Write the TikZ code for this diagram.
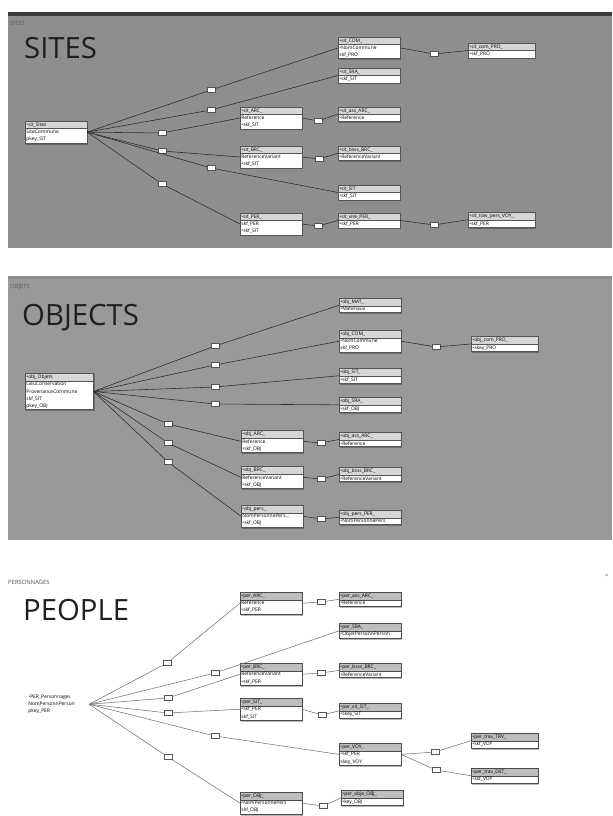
\documentclass[tikz,border=0pt]{standalone}
\usepackage{fontspec}
\setmainfont{Open Sans}
\usetikzlibrary{positioning,shapes.multipart,backgrounds}

\definecolor{panDark}{HTML}{8E8E8E}
\definecolor{panMid}{HTML}{999999}
\definecolor{panBar}{HTML}{3C3C3C}
\definecolor{hdrGray}{HTML}{D6D6D6}
\definecolor{hdrGrayDk}{HTML}{BEBEBE}
\definecolor{lineDark}{HTML}{2E2E2E}
\definecolor{lineGray}{HTML}{707070}
\definecolor{boxLine}{HTML}{555555}

\newcommand{\tbltext}{\fontsize{4.2}{6}\selectfont}

\tikzset{
  tblnode/.style={rectangle split, rectangle split parts=2,
                  rectangle split part fill={hdrGray,white}, draw=boxLine,
                  line width=0.4pt, text width=1.78cm, inner sep=1pt,
                  align=left, font=\tbltext, anchor=north west},
  widenode/.style={tblnode, text width=1.93cm},
  pertbl/.style={tblnode, rectangle split part fill={hdrGrayDk,white}, draw=black!70},
  perwide/.style={pertbl, text width=1.93cm},
  relbox/.style={draw=boxLine, fill=white, minimum width=0.24cm,
                 minimum height=0.15cm, inner sep=0pt},
  rel/.style={lineDark, line width=0.5pt},
  relgray/.style={lineGray, line width=0.45pt},
  titlenode/.style={font=\fontsize{25}{25}\selectfont, text=black!88,
                    anchor=base west, inner sep=0pt},
  tabname/.style={font=\fontsize{5}{5}\selectfont, anchor=base west, inner sep=0pt},
  tblshadow/.style={fill=black, opacity=0.28},
}

\begin{document}
\begin{tikzpicture}[x=0.03cm, y=-0.03cm]
\useasboundingbox (0,0) rectangle (612,816);

%% SITES panel
\node[tabname, text=black!65] (capSites) at (10,26) {SITES};
\node[titlenode] (tSites) at (24,59) {SITES};

\node[tblnode] (sitSites)   at (25,121)  {•sit\_Sites \nodepart{two} SiteCommune\\pkey\_SIT};
\node[tblnode] (sitARC)     at (240,107) {•sit\_ARC\_ \nodepart{two} Reference\\•skf\_SIT};
\node[tblnode] (sitBRC)     at (240,146) {•sit\_BRC\_ \nodepart{two} ReferenceVariant\\•skf\_SIT};
\node[tblnode] (sitPER)     at (240,213) {•sit\_PER\_ \nodepart{two} skf\_PER\\•skf\_SIT};
\node[tblnode] (sitCOM)     at (338,37)  {•sit\_COM\_ \nodepart{two} •NomCommune\\skf\_PRO};
\node[tblnode] (sitSRA)     at (338,68)  {•sit\_SRA\_ \nodepart{two} •skf\_SIT};
\node[tblnode] (sitassARC)  at (338,107) {•sit\_ass\_ARC\_ \nodepart{two} •Reference};
\node[tblnode] (sitbsssBRC) at (338,146) {•sit\_bsss\_BRC\_ \nodepart{two} •ReferenceVariant};
\node[tblnode] (sitSIT)     at (338,185) {•sit\_SIT \nodepart{two} •skf\_SIT};
\node[tblnode] (sitvirePER) at (338,213) {•sit\_vire\_PER\_ \nodepart{two} •skf\_PER};
\node[widenode] (sitcomPRO) at (468,43)  {•sit\_com\_PRO\_ \nodepart{two} •skf\_PRO};
\node[widenode] (sittravVOY) at (468,212) {•sit\_trav\_pers\_VOY\_ \nodepart{two} •skf\_PER};

% relation boxes
\foreach \n/\x/\y in {s1/211/90, s2/211/110, s3/162/133, s4/162/151, s5/211/168,
                      s6/162/184, s7/318/121, s8/319/159, s9/318/226, s10/434/54,
                      s11/434/225}
  \node[relbox] (\n) at (\x,\y) {};

\foreach \b/\t in {s1/sitCOM, s2/sitSRA, s3/sitARC, s4/sitBRC, s5/sitSIT, s6/sitPER}
  \draw[rel] (sitSites.east) -- (\b) -- (\t.west);
\foreach \a/\b/\t in {sitARC/s7/sitassARC, sitBRC/s8/sitbsssBRC, sitPER/s9/sitvirePER,
                      sitCOM/s10/sitcomPRO, sitvirePER/s11/sittravVOY}
  \draw[rel] (\a.east) -- (\b) -- (\t.west);

%% OBJECTS panel
\node[tabname, text=black!65] (capObj) at (10,288) {OBJETS};
\node[titlenode] (tObj) at (22,325) {OBJECTS};

\node[tblnode, text width=1.97cm] (objObjets) at (25,373)
  {•obj\_Objets \nodepart{two} LieuConservation\\ProvenanceCommune\\skf\_SIT\\pkey\_OBJ};
\node[tblnode] (objMAT)     at (339,298) {•obj\_MAT\_ \nodepart{two} •Materiaux};
\node[tblnode] (objCOM)     at (339,330) {•obj\_COM\_ \nodepart{two} •NomCommune\\skf\_PRO};
\node[tblnode] (objSIT)     at (339,368) {•obj\_SIT\_ \nodepart{two} •skf\_SIT};
\node[tblnode] (objSRA)     at (339,397) {•obj\_SRA\_ \nodepart{two} •skf\_OBJ};
\node[tblnode] (objARC)     at (241,430) {•obj\_ARC\_ \nodepart{two} Reference\\•skf\_OBJ};
\node[tblnode] (objassARC)  at (339,432) {•obj\_ass\_ARC\_ \nodepart{two} •Reference};
\node[tblnode] (objBRC)     at (241,466) {•obj\_BRC\_ \nodepart{two} ReferenceVariant\\•skf\_OBJ};
\node[tblnode] (objbsssBRC) at (339,467) {•obj\_bsss\_BRC\_ \nodepart{two} •ReferenceVariant};
\node[tblnode] (objPER)     at (241,505) {•obj\_pers\_ \nodepart{two} NomPersonnePers...\\•skf\_OBJ};
\node[tblnode] (objpersPER) at (339,510) {•obj\_pers\_PER\_ \nodepart{two} •NomPersonnePers};
\node[widenode] (objcomPRO) at (471,336) {•obj\_com\_PRO\_ \nodepart{two} •skey\_PRO};

% relation boxes
\foreach \n/\x/\y in {m1/215/346, m2/215/365, m3/215/387, m4/215/404, m5/168/424,
                      m6/168/443, m7/168/462, m8/321/443, m9/321/479, m10/321/519,
                      m11/436/347}
  \node[relbox] (\n) at (\x,\y) {};

\foreach \b/\t in {m1/objMAT, m2/objCOM, m3/objSIT, m4/objSRA, m5/objARC, m6/objBRC, m7/objPER}
  \draw[rel] (objObjets.east) -- (\b) -- (\t.west);
\foreach \a/\b/\t in {objARC/m8/objassARC, objBRC/m9/objbsssBRC, objPER/m10/objpersPER,
                      objCOM/m11/objcomPRO}
  \draw[rel] (\a.east) -- (\b) -- (\t.west);

%% PEOPLE panel
\node[tabname, text=black!70] (capPer) at (8,584) {PERSONNAGES};
\node[tabname, text=black!60] (closePer) at (605,577) {×};
\node[titlenode] (tPer) at (23,620) {PEOPLE};

\node[tblnode, draw=none, rectangle split part fill={white,white}] (perPER) at (27,693)
  {•PER\_Personnages \nodepart{two} NomPersonnPerson\\pkey\_PER};
\node[pertbl] (perARC)     at (240,592) {•per\_ARC\_ \nodepart{two} Reference\\•skf\_PER};
\node[pertbl] (perassARC)  at (339,592) {•per\_ass\_ARC\_ \nodepart{two} •Reference};
\node[pertbl] (perSRA)     at (339,623) {•per\_SRA\_ \nodepart{two} •ObjetPersonnPerson};
\node[pertbl] (perBRC)     at (240,663) {•per\_BRC\_ \nodepart{two} ReferenceVariant\\•skf\_PER};
\node[pertbl] (perbsssBRC) at (339,663) {•per\_bsss\_BRC\_ \nodepart{two} •ReferenceVariant};
\node[pertbl] (perSIT)     at (240,698) {•per\_SIT\_ \nodepart{two} •skf\_PER\\skf\_SIT};
\node[pertbl] (persitSIT)  at (339,703) {•per\_sit\_SIT\_ \nodepart{two} •skey\_SIT};
\node[pertbl] (perVOY)     at (339,743) {•per\_VOY\_ \nodepart{two} •skf\_PER\\skey\_VOY};
\node[pertbl] (perOBJ)     at (240,792) {•per\_OBJ\_ \nodepart{two} •NomPersonnePers\\skf\_OBJ};
\node[pertbl] (perobjOBJ)  at (341,790) {•per\_obje\_OBJ\_ \nodepart{two} •key\_OBJ};
\node[perwide] (pertravTRV) at (471,733) {•per\_trav\_TRV\_ \nodepart{two} •skf\_VOY};
\node[perwide] (pertravDST) at (471,768) {•per\_trav\_DST\_ \nodepart{two} •skf\_VOY};

% relation boxes
\foreach \n/\x/\y in {n1/167/663, n2/215/673, n3/168/698, n4/168/713, n5/215/736,
                      n6/168/757, n7/321/602, n8/321/673, n9/322/715, n10/323/806,
                      n11/435/752, n12/436/770}
  \node[relbox] (\n) at (\x,\y) {};

\foreach \b/\t in {n1/perARC, n2/perSRA, n3/perBRC, n4/perSIT, n5/perVOY, n6/perOBJ}
  \draw[relgray] (perPER.east) -- (\b) -- (\t.west);
\foreach \a/\b/\t in {perARC/n7/perassARC, perBRC/n8/perbsssBRC, perSIT/n9/persitSIT,
                      perOBJ/n10/perobjOBJ, perVOY/n11/pertravTRV, perVOY/n12/pertravDST}
  \draw[relgray] (\a.east) -- (\b) -- (\t.west);

%% Panels and table shadows, behind everything
\begin{scope}[on background layer]
  \fill[white] (0,0) rectangle (612,816);
  \fill[panDark] (8,12) rectangle (612,248);
  \fill[panBar] (8,12) rectangle (612,16);
  \fill[panMid] (8,276) rectangle (612,540);
  \fill[black!45] (8,276) rectangle (612,279);
  \foreach \t in {sitSites, sitARC, sitBRC, sitPER, sitCOM, sitSRA, sitassARC,
                  sitbsssBRC, sitSIT, sitvirePER, sitcomPRO, sittravVOY,
                  objObjets, objMAT, objCOM, objSIT, objSRA, objARC, objassARC,
                  objBRC, objbsssBRC, objPER, objpersPER, objcomPRO,
                  perARC, perassARC, perSRA, perBRC, perbsssBRC, perSIT, persitSIT,
                  perVOY, perOBJ, perobjOBJ, pertravTRV, pertravDST}
    \fill[tblshadow] ([shift={(1pt,-1.2pt)}]\t.south west) rectangle ([shift={(1pt,-1.2pt)}]\t.north east);
\end{scope}
\end{tikzpicture}
\end{document}
